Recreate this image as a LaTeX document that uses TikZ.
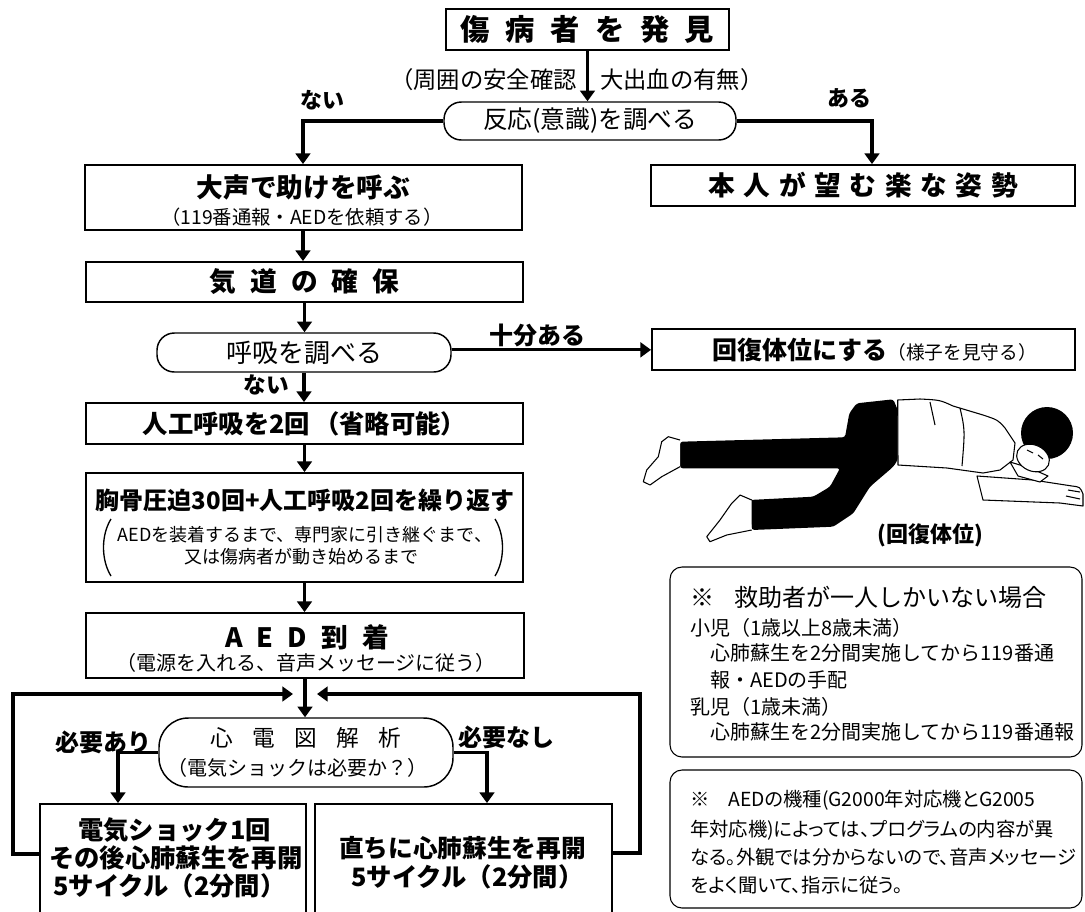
\documentclass[tikz,border=0pt]{standalone}
\usepackage{fontspec}
\setmainfont{Noto Sans CJK JP}
\usetikzlibrary{arrows.meta,calc}
\newcommand\fsz[1]{\fontsize{#1pt}{#1pt}\selectfont}
\begin{document}
\begin{tikzpicture}[x=0.75pt,y=-0.75pt,
  box/.style={draw,line width=1.4pt,inner sep=0pt},
  rbox/.style={draw,line width=1.1pt,inner sep=0pt,rounded corners=13pt},
  nbox/.style={draw,line width=0.8pt,inner sep=0pt,rounded corners=9pt},
  arr/.style={line width=2.5pt,-{Triangle[width=11pt,length=8pt]}},
  txt/.style={inner sep=0pt,text=black},
  btxt/.style={inner sep=0pt,text=black,font=\bfseries},
  ptxt/.style={inner sep=0pt,text=black,font=\addfontfeatures{RawFeature=+palt}},
]
\useasboundingbox (0,0) rectangle (1085,911);
\clip (0,0) rectangle (1085,911);

% ---------- main boxes ----------
\node[box,minimum width=212.25pt,minimum height=30.75pt] (find) at (587.5,29.5)
  {\fsz{22}\bfseries\makebox[190pt][s]{傷\hfill 病\hfill 者\hfill を\hfill 発\hfill 見}};
\node[txt,anchor=east] (safe) at (577,80) {\fsz{17.5}（周囲の安全確認};
\node[txt,anchor=west] (bleed) at (600,80) {\fsz{17.5}大出血の有無）};

\node[rbox,minimum width=219pt,minimum height=28.5pt] (react) at (590,121) {\fsz{18.5}反応(意識)を調べる};
\node[btxt] (nai1) at (322,100) {\fsz{16.5}ない};
\node[btxt] (aru) at (849,98) {\fsz{16.5}ある};

\node[box,minimum width=327.75pt,minimum height=48.75pt] (shout) at (303.5,197.5) {};
\node[btxt] (shoutA) at (303.5,187) {\fsz{20}大声で助けを呼ぶ};
\node[txt] (shoutB) at (302,217) {\fsz{14.5}（119番通報・AEDを依頼する）};

\node[box,minimum width=318pt,minimum height=30.75pt] (relax) at (863,185.5)
  {\fsz{20}\bfseries\makebox[232pt][s]{本\hfill 人\hfill が\hfill 望\hfill む\hfill 楽\hfill な\hfill 姿\hfill 勢}};

\node[box,minimum width=327.75pt,minimum height=30pt] (airway) at (304.5,282)
  {\fsz{20}\bfseries\makebox[142pt][s]{気\hfill 道\hfill の\hfill 確\hfill 保}};

\node[rbox,minimum width=220.5pt,minimum height=29.25pt] (breath) at (304,352.5) {\fsz{19.5}呼吸を調べる};
\node[btxt] (enough) at (537,335) {\fsz{18}十分ある};
\node[btxt] (nai2) at (266,385) {\fsz{17}ない};

\node[box,minimum width=317.25pt,minimum height=30.75pt] (recov) at (863.5,349.5) {};
\node[txt,anchor=west] (recovT) at (712,350) {\fsz{18.75}\bfseries 回復体位にする\mdseries\fsz{14}（様子を見守る）};

\node[box,minimum width=327.75pt,minimum height=30.75pt] (resp2) at (304.5,423.5)
  {\fsz{19}\bfseries 人工呼吸を2回\hspace{3pt}（省略可能）};

\node[box,minimum width=327.75pt,minimum height=81.75pt] (cpr) at (304.5,527.5) {};
\node[btxt] (cprA) at (305,500) {\fsz{18}胸骨圧迫30回+人工呼吸2回を繰り返す};
\node[txt] (cprB) at (305,535) {\fsz{13.5}AEDを装着するまで、専門家に引き継ぐまで、};
\node[txt] (cprC) at (301,557) {\fsz{13.5}又は傷病者が動き始めるまで};
\draw[line width=1pt] (111,519) .. controls (101,535) and (101,560) .. (111,576);
\draw[line width=1pt] (495,519) .. controls (505,535) and (505,560) .. (495,576);

\node[box,minimum width=328.5pt,minimum height=48.75pt] (aed) at (305,645.5) {};
\node[btxt] (aedA) at (307,637)
  {\fsz{20}\makebox[123pt][s]{A\hfill E\hfill D\hfill 到\hfill 着}};
\node[txt] (aedB) at (306,663) {\fsz{15}（電源を入れる、音声メッセージに従う）};

\node[rbox,rounded corners=22pt,minimum width=220.5pt,minimum height=51.75pt] (ecg) at (306,752.5) {};
\node[txt] (ecgA) at (306,738)
  {\fsz{17}\makebox[143pt][s]{心\hfill 電\hfill 図\hfill 解\hfill 析}};
\node[txt] (ecgB) at (297,768) {\fsz{15}（電気ショックは必要か？）};
\node[btxt] (need) at (103,742) {\fsz{18}必要あり};
\node[btxt] (noneed) at (506,737) {\fsz{18}必要なし};

\node[box,minimum width=199.5pt,minimum height=94.5pt] (shock) at (173,867) {};
\node[btxt,anchor=west] (shockA) at (78,830) {\fsz{19}電気ショック1回};
\node[btxt,anchor=west] (shockB) at (49,858) {\fsz{19}その後心肺蘇生を再開};
\node[btxt,anchor=west] (shockC) at (53,886) {\fsz{19}5サイクル（2分間）};

\node[box,minimum width=222.75pt,minimum height=94.5pt] (noshock) at (463.5,867) {};
\node[btxt,anchor=west] (noshockA) at (339,848) {\fsz{18.5}直ちに心肺蘇生を再開};
\node[btxt,anchor=west] (noshockB) at (351,877) {\fsz{19}5サイクル（2分間）};

% ---------- connectors ----------
\draw[arr] (find.south) -- (find.south |- react.north);
\draw[arr] (react.west) -| ([xshift=-0.4pt]shout.north);
\draw[arr] (react.east) -| ([xshift=6.75pt]relax.north);
\draw[arr] ([xshift=-0.4pt]shout.south) -- ([xshift=-0.4pt]shout.south |- airway.north);
\draw[arr] (airway.south) -- (airway.south |- breath.north);
\draw[arr,line width=2.2pt] ([yshift=2pt]breath.east) -- ([yshift=2pt]breath.east -| recov.west);
\draw[arr] (breath.south) -- (breath.south |- resp2.north);
\draw[arr] (resp2.south) -- (resp2.south |- cpr.north);
\draw[arr] (cpr.south) -- (cpr.south |- aed.north);
\draw[arr] (aed.south) -- (aed.south |- ecg.north);
\draw[arr] (ecg.west) -| ([xshift=-41.25pt]shock.north);
\draw[arr] (ecg.east) -| ([xshift=17.6pt]noshock.north);
\coordinate (loopL) at (13,694);
\coordinate (inL) at (293,694);
\coordinate (loopR) at (640,694);
\coordinate (inR) at (317,694);
\draw[arr,line join=miter] ([yshift=9.75pt]shock.west) -| (loopL) -- (inL);
\draw[arr,line join=miter] ([yshift=10.5pt]noshock.east) -| (loopR) -- (inR);

% ---------- recovery position figure ----------
\begin{scope}[line width=0.8pt,line join=round]
  % torso / shirt
  \draw[fill=white] (897.7,400) -- (920,399) .. controls (940,400) .. (953,406)
     -- (983,415) .. controls (998,420) .. (1005,428) -- (1015,443) -- (1013,460)
     -- (1000,470) -- (983,473) -- (947,468) -- (898,465) -- cycle;
  \draw (930,402) -- (935,425);
  \draw (960,408) .. controls (965,430) .. (962,466);
  % lower arm extended
  \draw[fill=white] (977,476) -- (1033,480) -- (1072,486) .. controls (1080,487) .. (1083,494)
     -- (1083,506) -- (1060,503) -- (983,500) -- cycle;
  \draw (1068,490) -- (1080,492) (1066,496) -- (1080,499);
  % hand near face
  \draw[fill=white] (1010,462) -- (1030,468) -- (1048,476) -- (1040,482) -- (1018,476) -- cycle;
  % head
  \fill[black] (1047,433) circle (26);
  \draw[fill=white,rotate around={-25:(1033,458)}] (1033,458) ellipse (17 and 13);
  \draw (1027,450) -- (1033,453) (1038,455) -- (1043,459);
  % trousers
  \fill[black,rounded corners=2pt] (680,441.7) -- (845,437.3) -- (849.3,413.3) -- (856.7,403.3)
     -- (893.3,399.3) -- (897.7,410) -- (897.7,460) -- (893.3,466.7) -- (870,486.7)
     -- (853.3,513.3) -- (833.3,526.7) -- (751.7,530) -- (749.3,500) -- (813.3,496.7)
     -- (830,486.7) -- (840,468.3) -- (680,468.3) -- cycle;
  % feet
  \draw[fill=white] (680,440) -- (668.3,436.7) -- (661.7,441.7) -- (658.3,456.7) -- (646.7,470)
     -- (643.3,481.7) -- (650,485) -- (661.7,476.7) -- (680,466.7);
  \draw[fill=white] (751.7,500) -- (740,495) -- (731.7,503.3) -- (720,520) -- (706.7,536.7)
     -- (710,541.7) -- (726.7,535) -- (751.7,530);
\end{scope}
\node[btxt] (recovcap) at (930,535) {\fsz{16.5}(回復体位)};

% ---------- notes ----------
\node[nbox,minimum width=309pt,minimum height=142.5pt] (note1) at (876,662) {};
\node[txt,anchor=west] (n1a) at (690,597) {\fsz{18}※\hspace{15pt}救助者が一人しかいない場合};
\node[txt,anchor=west] (n1b) at (690,628) {\fsz{15}小児（1歳以上8歳未満）};
\node[txt,anchor=west] (n1c) at (710,653) {\fsz{15}心肺蘇生を2分間実施してから119番通};
\node[txt,anchor=west] (n1d) at (710,680) {\fsz{15}報・AEDの手配};
\node[txt,anchor=west] (n1e) at (690,707) {\fsz{15}乳児（1歳未満）};
\node[txt,anchor=west] (n1f) at (710,732) {\fsz{15}心肺蘇生を2分間実施してから119番通報};

\node[nbox,minimum width=309pt,minimum height=103.5pt] (note2) at (876,839) {};
\node[ptxt,anchor=west] (n2a) at (690,800) {\fsz{14.5}※\hspace{14pt}AEDの機種(G2000年対応機とG2005};
\node[ptxt,anchor=west] (n2b) at (690,830) {\fsz{14.5}年対応機)によっては、プログラムの内容が異};
\node[ptxt,anchor=west] (n2c) at (690,857) {\fsz{14.5}なる。外観では分からないので、音声メッセージ};
\node[ptxt,anchor=west] (n2d) at (690,885) {\fsz{14.5}をよく聞いて、指示に従う。};
\end{tikzpicture}
\end{document}
